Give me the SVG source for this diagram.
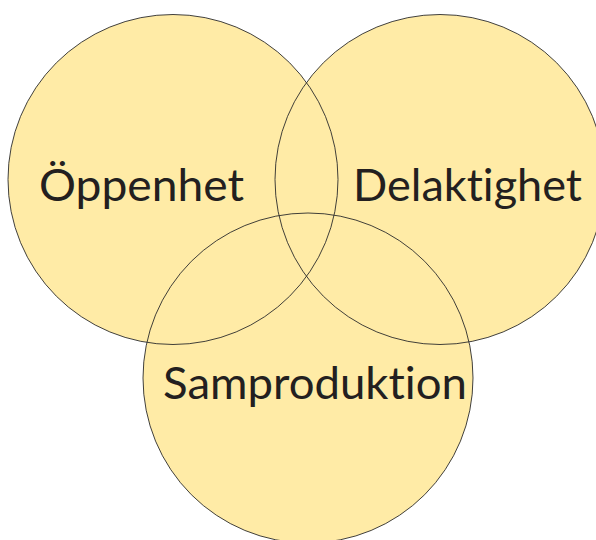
<svg xmlns="http://www.w3.org/2000/svg" width="596" height="540" viewBox="0 0 596 540">
<style>
.c{fill:#FFEBA6;stroke:none}
.s{fill:none;stroke:#2b2b2b;stroke-width:0.9}
.t{font-family:Lato,"Open Sans","Liberation Sans",sans-serif;font-size:45px;fill:#231F20;font-variant-ligatures:none;font-feature-settings:"liga" 0,"clig" 0}
</style>
<rect width="596" height="540" fill="#ffffff"/>
<g id="fills">
<circle class="c" cx="173" cy="179.5" r="165"/>
<circle class="c" cx="440" cy="179.5" r="165"/>
<circle class="c" cx="308" cy="378" r="165"/>
</g>
<g id="node-oppenhet"><circle class="s" cx="173" cy="179.5" r="165"/><text class="t" x="39" y="200.5" textLength="205" lengthAdjust="spacingAndGlyphs">Öppenhet</text></g>
<g id="node-delaktighet"><circle class="s" cx="440" cy="179.5" r="165"/><text class="t" x="353" y="200.5" textLength="229" lengthAdjust="spacingAndGlyphs">Delaktighet</text></g>
<g id="node-samproduktion"><circle class="s" cx="308" cy="378" r="165"/><text class="t" x="163" y="399" textLength="304" lengthAdjust="spacingAndGlyphs">Samproduktion</text></g>
<g id="connectors"></g>
</svg>
